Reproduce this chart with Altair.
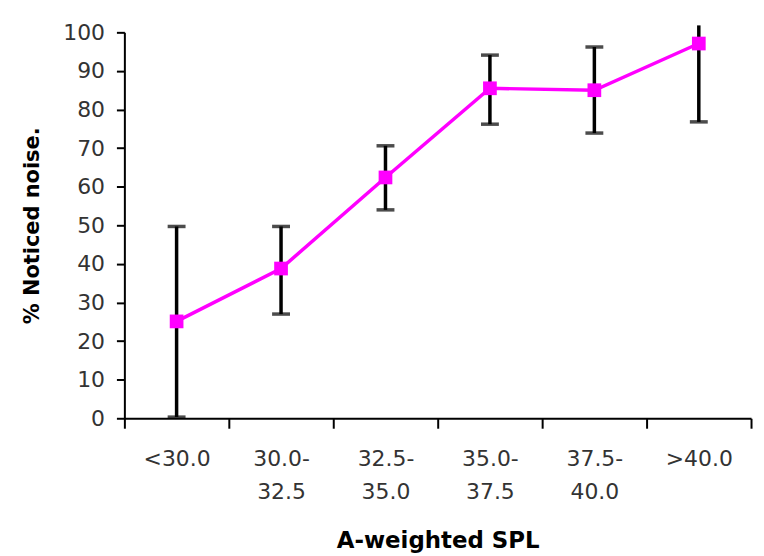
import altair as alt
import pandas as pd

categories = ["<30.0", "30.0-32.5", "32.5-35.0", "35.0-37.5", "37.5-40.0", ">40.0"]
means = [25.1, 38.8, 62.4, 85.5, 85.0, 97.1]
lower = [0.3, 27.0, 54.0, 76.2, 73.9, 76.8]
upper = [49.7, 49.7, 70.6, 94.1, 96.2, 101.8]
y_ticks = [0, 10, 20, 30, 40, 50, 60, 70, 80, 90, 100]

df = pd.DataFrame({"cat": categories, "mean": means, "lo": lower, "hi": upper})

FONT = "DejaVu Sans"

x_axis = alt.Axis(
    title="A-weighted SPL",
    labelAngle=0,
    tickBand="extent",
    tickSize=10,
    tickWidth=2,
    tickColor="black",
    domainColor="black",
    domainWidth=2,
    labelPadding=20,
    labelFont=FONT,
    labelFontSize=22,
    labelColor="#333333",
    labelLineHeight=34,
    labelBaseline="top",
    labelExpr="indexof(datum.label,'-') > 0 ? [substring(datum.label,0,indexof(datum.label,'-')+1), substring(datum.label,indexof(datum.label,'-')+1)] : datum.label",
    titleFont=FONT,
    titleFontSize=23,
    titleFontWeight="bold",
    titleColor="black",
    titleY=123,
    titleBaseline="middle",
)
x_scale = alt.Scale(type="band", paddingInner=0, paddingOuter=0)

y_scale = alt.Scale(domain=[0, 100], nice=False, zero=True)
y_axis = alt.Axis(
    title="% Noticed noise.",
    values=y_ticks,
    tickCount=11,
    labelOverlap=False,
    grid=False,
    tickSize=8,
    tickWidth=2,
    tickColor="black",
    domainColor="black",
    domainWidth=2,
    labelPadding=12,
    labelFont=FONT,
    labelFontSize=22,
    labelColor="#333333",
    titleFont=FONT,
    titleFontSize=21,
    titleFontWeight="bold",
    titleColor="black",
    titleAngle=270,
    titleX=-92,
    titleY=194,
    titleAlign="center",
    titleBaseline="middle",
)


def xe():
    return alt.X("cat:N", sort=categories, scale=x_scale, axis=x_axis)


def ye(field):
    return alt.Y(field, type="quantitative", scale=y_scale, axis=y_axis, title="% Noticed noise.")


base = alt.Chart(df)

rules = base.mark_rule(color="black", strokeWidth=3.5).encode(
    x=xe(),
    y=ye("lo"),
    y2="hi:Q",
)

caps_lo = base.mark_tick(color="black", size=18, thickness=3.5).encode(
    x=xe(),
    y=ye("lo"),
)
caps_hi = base.transform_filter("datum.hi <= 100").mark_tick(
    color="black", size=18, thickness=3.5
).encode(
    x=xe(),
    y=ye("hi"),
)

line = base.mark_line(color="#FF00FF", strokeWidth=3.5).encode(
    x=xe(),
    y=ye("mean"),
)

pts = base.mark_square(color="#FF00FF", size=190, opacity=1).encode(
    x=xe(),
    y=ye("mean"),
)

chart = (
    alt.layer(rules, caps_lo, caps_hi, line, pts)
    .properties(
        width=630,
        height=388,
        autosize=alt.AutoSizeParams(type="none"),
        padding={"left": 117, "top": 23, "right": 5, "bottom": 137},
        background="white",
    )
    .configure_view(stroke=None)
)

chart.save("out.html", embed_options={"renderer": "svg", "actions": False})
